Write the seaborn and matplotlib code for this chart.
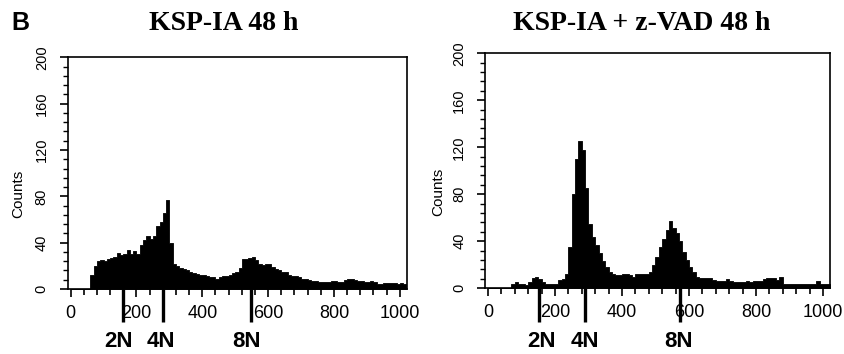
# DNA content histograms, KSP-IA 48 h with and without z-VAD
import numpy as np
import pandas as pd
import matplotlib
matplotlib.use("Agg")
import matplotlib.pyplot as plt
import matplotlib.transforms as mtransforms
import seaborn as sns


# Data (counts per 10-channel bin, channels 0..1020)
bin_start = np.arange(0, 1020, 10)

counts_ksp = [
    0, 0, 0, 0, 0, 0, 12, 20, 24, 25,
    24, 26, 27, 28, 31, 29, 30, 34, 30, 33,
    30, 38, 42, 46, 43, 46, 54, 58, 66, 77,
    40, 22, 20, 18, 17, 16, 15, 14, 13, 12,
    12, 11, 10, 10, 9, 10, 11, 11, 12, 14,
    15, 18, 26, 26, 27, 28, 25, 22, 21, 22,
    22, 19, 17, 16, 15, 15, 12, 11, 11, 10,
    9, 9, 8, 7, 7, 6, 6, 6, 6, 7,
    7, 6, 6, 8, 9, 9, 8, 7, 7, 6,
    6, 7, 6, 4, 4, 5, 5, 5, 5, 4,
    5, 4,
]

counts_zvad = [
    0, 0, 0, 0, 0, 0, 0, 4, 5, 4,
    4, 3, 5, 9, 10, 8, 5, 4, 4, 4,
    4, 7, 8, 12, 35, 80, 110, 125, 118, 85,
    55, 44, 37, 30, 23, 18, 14, 12, 11, 11,
    12, 12, 11, 10, 12, 12, 12, 12, 14, 20,
    27, 35, 42, 50, 57, 51, 47, 40, 31, 24,
    18, 14, 10, 8.5, 9, 9, 9, 7, 6, 6,
    6, 8, 6, 5, 5, 5, 5, 6, 5, 6,
    6, 6, 8, 9, 9, 9, 7, 10, 4, 4,
    4, 4, 4, 4, 4, 4, 4, 4, 6, 4,
    4, 4,
]

titles = ["KSP-IA 48 h", "KSP-IA + z-VAD 48 h"]
ploidy_labels = ["2N", "4N", "8N"]
ploidy_pos_ksp = [160, 280, 548]
ploidy_pos_zvad = [151, 289, 574]
ploidy_text_ksp = [145, 273, 535]
ploidy_text_zvad = [159, 288, 569]

x_ticks = [0, 200, 400, 600, 800, 1000]
y_ticks = [0, 40, 80, 120, 160, 200]


# Style
sns.set_style("ticks")
sans = ["Liberation Sans Narrow", "Liberation Sans", "DejaVu Sans"]
serif = ["Liberation Serif", "DejaVu Serif"]
plt.rcParams["font.family"] = sans
plt.rcParams["axes.linewidth"] = 1.2
plt.rcParams["text.color"] = "black"
plt.rcParams["axes.labelcolor"] = "black"
plt.rcParams["axes.edgecolor"] = "black"
plt.rcParams["xtick.color"] = "black"
plt.rcParams["ytick.color"] = "black"


fig = plt.figure(figsize=(8.44, 3.54), dpi=100)

panels = [
    dict(rect=[0.0806, 0.1836, 0.4017, 0.6545], counts=counts_ksp,
         marks=ploidy_pos_ksp, texts=ploidy_text_ksp, lab_x=-0.127),
    dict(rect=[0.5750, 0.1856, 0.4088, 0.6640], counts=counts_zvad,
         marks=ploidy_pos_zvad, texts=ploidy_text_zvad, lab_x=-0.117),
]

centers = bin_start + 5

for p in panels:
    ax = fig.add_axes(p["rect"])
    df = pd.DataFrame({"channel": centers, "count": p["counts"]})
    sns.histplot(data=df, x="channel", weights="count", binwidth=10,
                 binrange=(0, 1020), element="step", fill=True,
                 color="black", alpha=1, linewidth=0.6, ax=ax)

    ax.set_xlim(-8, 1022)
    ax.set_ylim(0, 200)
    ax.set_xticks(x_ticks)
    ax.set_yticks(y_ticks)
    ax.set_xticks(np.arange(0, 1021, 40), minor=True)
    ax.set_yticks(np.arange(0, 201, 8), minor=True)
    ax.tick_params(axis="x", which="major", length=5.8, width=1.2,
                   pad=5.5, labelsize=13, labelcolor="black")
    ax.tick_params(axis="x", which="minor", length=4.0, width=1.2)
    ax.tick_params(axis="y", which="major", length=5.8, width=1.2,
                   pad=8, labelsize=10.5, labelrotation=90,
                   labelcolor="black")
    ax.tick_params(axis="y", which="minor", length=3.6, width=1.0)
    for lab in ax.get_yticklabels():
        lab.set_va("center")

    for s in ax.spines.values():
        s.set_visible(True)
        s.set_color("black")

    ax.set_xlabel("")
    ax.set_ylabel("Counts", fontsize=11, color="black")
    ax.yaxis.set_label_coords(p["lab_x"], 0.41)

    # ploidy markers below the axis
    trans = mtransforms.blended_transform_factory(ax.transData, ax.transAxes)
    for xm in p["marks"]:
        ax.plot([xm, xm], [0, -0.142], color="black", lw=2.4,
                transform=trans, clip_on=False, solid_capstyle="butt")
    for lab, xt in zip(ploidy_labels, p["texts"]):
        ax.text(xt, -0.225, lab, transform=trans, ha="center", va="center",
                fontsize=16, fontweight="bold", color="black")

# titles
fig.text(224 / 844, 1 - 24 / 354, titles[0], ha="center", va="center",
         fontsize=20, fontweight="bold", family=serif, color="black")
fig.text(641.5 / 844, 1 - 24 / 354, titles[1], ha="center", va="center",
         fontsize=20, fontweight="bold", family=serif, color="black")
fig.text(20 / 844, 1 - 23 / 354, "B", ha="center", va="center",
         fontsize=18, fontweight="bold", color="black",
         family=["Liberation Sans", "DejaVu Sans"])

fig.savefig("out.png", dpi=100)
